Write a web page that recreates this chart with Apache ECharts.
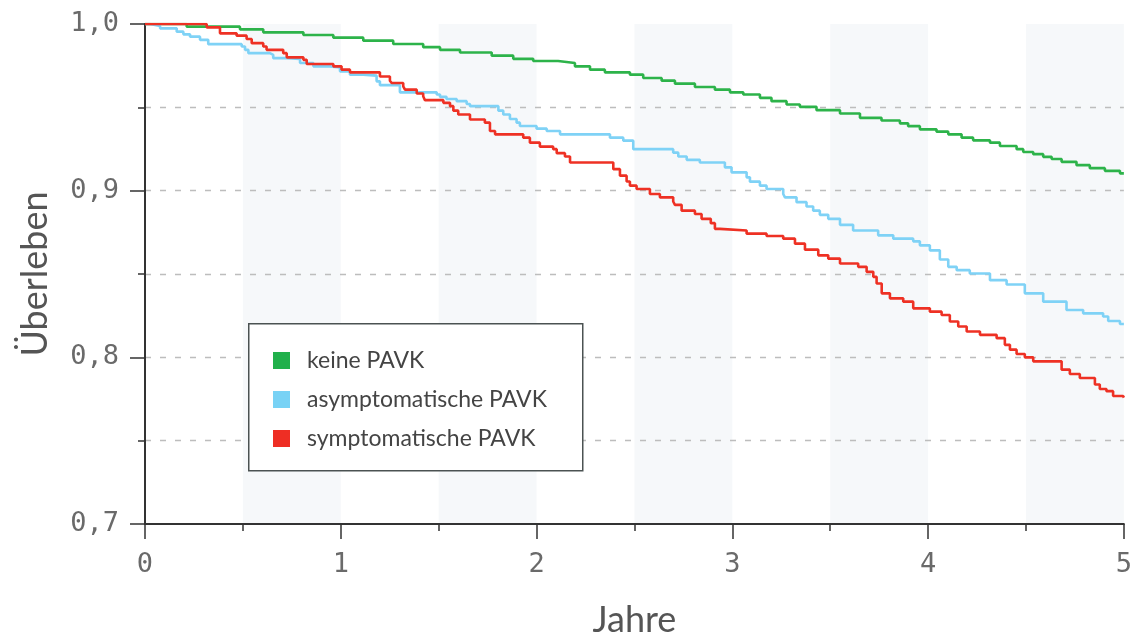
<!DOCTYPE html>
<html>
<head>
<meta charset="utf-8">
<script src="https://cdn.jsdelivr.net/npm/echarts@6/dist/echarts.min.js"></script>
<style>html,body{margin:0;padding:0;background:#fff}#c{width:1135px;height:643px}</style>
</head>
<body>
<div id="c"></div>
<script>
const seriesNames = ['keine PAVK', 'asymptomatische PAVK', 'symptomatische PAVK'];

const keineT = [0, 0.213, 0.485, 0.604, 0.809, 0.962, 1.115, 1.268, 1.421, 1.507, 1.609, 1.771, 1.881, 1.983, 2.11, 2.196, 2.273, 2.349, 2.477, 2.545, 2.639, 2.707, 2.809, 2.911, 2.988, 3.056, 3.141, 3.2, 3.277, 3.345, 3.43, 3.55, 3.652, 3.762, 3.856, 3.898, 3.958, 4.043, 4.103, 4.171, 4.23, 4.316, 4.367, 4.452, 4.486, 4.537, 4.588, 4.631, 4.682, 4.758, 4.826, 4.903, 4.98, 5.0];
const keineS = [1.0, 0.9984, 0.9968, 0.995, 0.9934, 0.9918, 0.990, 0.988, 0.9861, 0.9845, 0.9829, 0.981, 0.9791, 0.9778, 0.9766, 0.9746, 0.9726, 0.971, 0.9696, 0.9676, 0.966, 0.9642, 0.9622, 0.9606, 0.959, 0.9577, 0.9557, 0.9537, 0.9517, 0.9503, 0.9483, 0.9463, 0.9437, 0.9421, 0.9404, 0.9387, 0.9368, 0.9354, 0.9338, 0.9318, 0.9302, 0.9288, 0.9268, 0.9249, 0.9232, 0.9219, 0.9203, 0.919, 0.9173, 0.9153, 0.9135, 0.9119, 0.9104, 0.9104];

const asymT = [0, 0.026, 0.077, 0.162, 0.196, 0.23, 0.281, 0.323, 0.494, 0.511, 0.528, 0.638, 0.655, 0.724, 0.792, 0.86, 0.945, 0.996, 1.047, 1.115, 1.183, 1.2, 1.302, 1.49, 1.507, 1.54, 1.592, 1.643, 1.66, 1.805, 1.83, 1.864, 1.898, 1.915, 2.0, 2.052, 2.12, 2.375, 2.443, 2.494, 2.698, 2.724, 2.767, 2.834, 2.962, 2.996, 3.073, 3.09, 3.141, 3.175, 3.26, 3.269, 3.328, 3.379, 3.413, 3.447, 3.49, 3.55, 3.617, 3.745, 3.822, 3.924, 3.958, 4.009, 4.06, 4.103, 4.146, 4.213, 4.316, 4.401, 4.494, 4.588, 4.707, 4.792, 4.894, 4.92, 4.98, 5.0];
const asymS = [1.0, 0.9988, 0.9974, 0.9954, 0.9938, 0.9924, 0.9905, 0.9879, 0.9865, 0.9845, 0.9825, 0.9815, 0.9795, 0.979, 0.9766, 0.9746, 0.974, 0.9716, 0.9696, 0.969, 0.9656, 0.9633, 0.959, 0.9577, 0.9563, 0.955, 0.9537, 0.952, 0.9507, 0.948, 0.9457, 0.943, 0.9408, 0.9388, 0.9372, 0.9358, 0.9338, 0.9318, 0.930, 0.9249, 0.9228, 0.9205, 0.9185, 0.9169, 0.914, 0.911, 0.908, 0.9054, 0.903, 0.901, 0.898, 0.896, 0.8931, 0.8905, 0.888, 0.8855, 0.8831, 0.8795, 0.8761, 0.8732, 0.8712, 0.8696, 0.8672, 0.8642, 0.8587, 0.8543, 0.8523, 0.8503, 0.8463, 0.8437, 0.8384, 0.8334, 0.8284, 0.8264, 0.8245, 0.8218, 0.82, 0.82];

const symT = [0, 0.315, 0.383, 0.468, 0.519, 0.545, 0.604, 0.621, 0.706, 0.724, 0.809, 0.826, 0.962, 1.004, 1.047, 1.2, 1.251, 1.26, 1.319, 1.328, 1.388, 1.421, 1.43, 1.524, 1.558, 1.575, 1.6, 1.66, 1.736, 1.762, 1.788, 1.932, 1.966, 2.017, 2.085, 2.103, 2.145, 2.171, 2.392, 2.426, 2.46, 2.477, 2.511, 2.579, 2.63, 2.698, 2.707, 2.741, 2.809, 2.843, 2.89, 2.911, 2.937, 3.073, 3.175, 3.26, 3.32, 3.371, 3.439, 3.49, 3.55, 3.643, 3.686, 3.72, 3.737, 3.763, 3.805, 3.873, 3.924, 4.009, 4.069, 4.111, 4.154, 4.197, 4.265, 4.35, 4.392, 4.418, 4.452, 4.494, 4.537, 4.682, 4.724, 4.775, 4.852, 4.877, 4.911, 4.945, 4.996, 5.0];
const symS = [1.0, 0.998, 0.9944, 0.993, 0.991, 0.9885, 0.9865, 0.9845, 0.9825, 0.980, 0.9785, 0.976, 0.9746, 0.9726, 0.971, 0.9685, 0.966, 0.9646, 0.9626, 0.9606, 0.9583, 0.9567, 0.9543, 0.9527, 0.9507, 0.948, 0.9457, 0.9427, 0.9408, 0.9358, 0.9338, 0.9318, 0.9288, 0.9264, 0.9249, 0.9225, 0.9205, 0.9169, 0.9129, 0.909, 0.9055, 0.903, 0.901, 0.898, 0.896, 0.8935, 0.8915, 0.888, 0.886, 0.8831, 0.8805, 0.8771, 0.8761, 0.8742, 0.8728, 0.8712, 0.8682, 0.8646, 0.8612, 0.8592, 0.8563, 0.8543, 0.8513, 0.8483, 0.8443, 0.8384, 0.8354, 0.8334, 0.8294, 0.8274, 0.8254, 0.8215, 0.8185, 0.8155, 0.8135, 0.8115, 0.8075, 0.8046, 0.802, 0.80, 0.7976, 0.7926, 0.79, 0.7876, 0.7837, 0.781, 0.7797, 0.7768, 0.7758, 0.7758];

const colors = ['#2db34a', '#7fd2f6', '#ee3124'];
const legendColors = ['#21b04b', '#78d2f5', '#ee2e24'];

function pairs(t, s) { return t.map((x, i) => [x, s[i]]); }
const dataSets = [pairs(keineT, keineS), pairs(asymT, asymS), pairs(symT, symS)];

const chart = echarts.init(document.getElementById('c'), null, {renderer: 'canvas'});
const dash = {color: '#bdbdbd', width: 1.3, type: [6, 9]};
const option = {
  animation: false,
  backgroundColor: '#fff',
  grid: {left: 145, right: 11, top: 24, bottom: 116},
  xAxis: [{
    type: 'value', min: 0, max: 5, interval: 1, z: 1,
    name: 'Jahre', nameLocation: 'middle', nameGap: 78,
    nameTextStyle: {fontFamily: 'Lato', fontSize: 36, color: '#555'},
    axisLine: {onZero: false, lineStyle: {color: '#333', width: 2}},
    axisTick: {length: 15, lineStyle: {color: '#333', width: 1.5}},
    minorTick: {show: true, splitNumber: 2, length: 7, lineStyle: {color: '#333', width: 1.5}},
    axisLabel: {margin: 27, fontFamily: 'DejaVu Sans Mono', fontSize: 27, color: '#6a6a6a', formatter: v => String(Math.round(v))},
    splitLine: {show: false}
  }, {
    type: 'value', min: 0, max: 5, interval: 0.5, z: 0,
    axisLine: {show: false}, axisTick: {show: false}, axisLabel: {show: false},
    splitLine: {show: false},
    splitArea: {show: true, areaStyle: {color: ['rgba(255,255,255,0)', '#f6f8fa']}}
  }],
  yAxis: {
    type: 'value', min: 0.7, max: 1.0, interval: 0.1, z: 1,
    name: 'Überleben', nameLocation: 'middle', nameGap: 92, nameRotate: 90,
    nameTextStyle: {fontFamily: 'Lato', fontSize: 36, color: '#555'},
    axisLine: {lineStyle: {color: '#333', width: 2}},
    axisTick: {length: 15, lineStyle: {color: '#333', width: 1.5}},
    minorTick: {show: true, splitNumber: 2, length: 7, lineStyle: {color: '#333', width: 1.5}},
    axisLabel: {margin: 26, fontFamily: 'DejaVu Sans Mono', fontSize: 27, color: '#6a6a6a',
      formatter: v => (Math.round(v * 10) / 10).toFixed(1).replace('.', ',')},
    splitLine: {show: true, showMinLine: false, showMaxLine: false, lineStyle: dash},
    minorSplitLine: {show: true, lineStyle: dash}
  },
  legend: {
    orient: 'vertical', left: 268, top: 344, z: 10,
    itemWidth: 17, itemHeight: 17, itemGap: 16,
    icon: 'rect',
    textStyle: {fontFamily: 'Lato', fontSize: 23, color: '#444', padding: [0, 0, 0, 12]},
    data: seriesNames.map((n, i) => ({name: n, itemStyle: {color: legendColors[i]}}))
  },
  graphic: [{
    type: 'rect', z: 8, left: 248, top: 323,
    shape: {width: 334, height: 147},
    style: {fill: '#fff', stroke: '#4b5252', lineWidth: 1.5}
  }],
  series: seriesNames.map((n, i) => ({
    name: n, type: 'line', step: 'end', showSymbol: false, symbol: 'none',
    xAxisIndex: 0, z: 3 + i,
    data: dataSets[i],
    lineStyle: {color: colors[i], width: 2.6},
    itemStyle: {color: colors[i]}
  }))
};
chart.setOption(option);
</script>
</body>
</html>
